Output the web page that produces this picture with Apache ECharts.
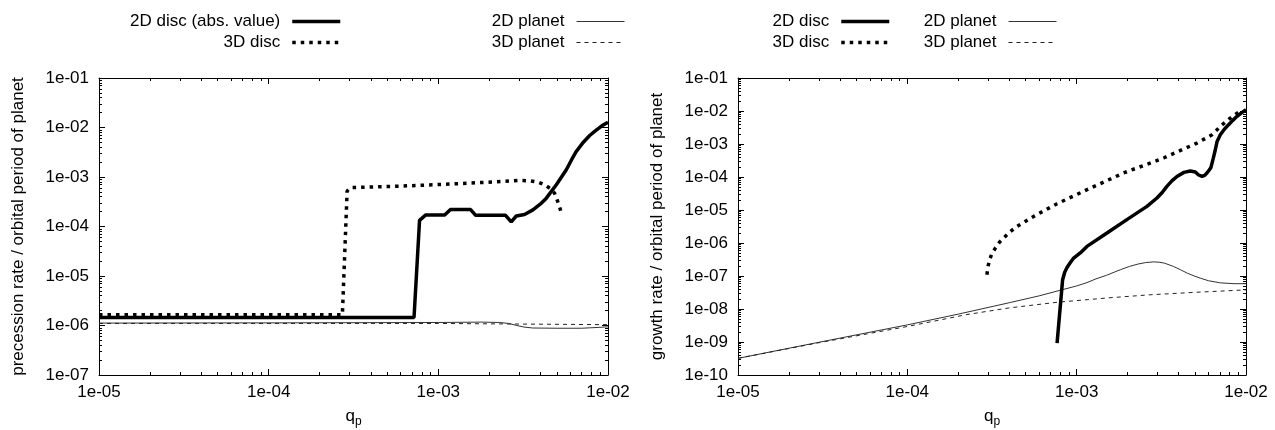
<!DOCTYPE html>
<html><head><meta charset="utf-8">
<script src="https://cdn.jsdelivr.net/npm/echarts@6/dist/echarts.min.js"></script>
<style>html,body{margin:0;padding:0;background:#fff}#c{width:1275px;height:430px}</style>
</head><body><div id="c"></div>
<script>
// ---------- data ----------
const xTickLabels = ['1e-05', '1e-04', '1e-03', '1e-02'];
const precTickLabels = ['1e-07', '1e-06', '1e-05', '1e-04', '1e-03', '1e-02', '1e-01'];
const growTickLabels = ['1e-10', '1e-09', '1e-08', '1e-07', '1e-06', '1e-05', '1e-04', '1e-03', '1e-02', '1e-01'];
const minorMantissas = [2, 3, 4, 5, 6, 7, 8, 9];

// left panel: precession rate
const prec2DDisc = [[1e-5,1.45e-6],[7.19e-4,1.45e-6],[7.75e-4,1.33e-4],[8.4e-4,1.7e-4],[1.09e-3,1.7e-4],[1.18e-3,2.2e-4],[1.55e-3,2.2e-4],[1.66e-3,1.68e-4],[2.49e-3,1.68e-4],[2.69e-3,1.24e-4],[2.88e-3,1.63e-4],[3.22e-3,1.75e-4],[3.61e-3,2.17e-4],[4.0e-3,2.85e-4],[4.33e-3,3.74e-4],[4.96e-3,6.95e-4],[5.68e-3,1.40e-3],[6.07e-3,2.16e-3],[6.5e-3,3.28e-3],[7.16e-3,5.05e-3],[7.8e-3,6.9e-3],[8.45e-3,8.67e-3],[9.2e-3,1.08e-2],[1e-2,1.28e-2]];
const prec3DDisc = [[1e-5,1.65e-6],[2.72e-4,1.65e-6],[2.9e-4,5.2e-4],[3.05e-4,6.1e-4],[5e-4,6.4e-4],[9.3e-4,6.95e-4],[1.5e-3,7.5e-4],[2.2e-3,8.0e-4],[3.0e-3,8.5e-4],[3.45e-3,8.4e-4],[3.9e-3,7.8e-4],[4.23e-3,6.95e-4],[4.55e-3,5.9e-4],[4.84e-3,4.72e-4],[5.14e-3,2.74e-4],[5.35e-3,1.72e-4]];
const prec2DPlanet = [[1e-5,1.12e-6],[1e-4,1.13e-6],[1e-3,1.15e-6],[1.8e-3,1.17e-6],[2.3e-3,1.15e-6],[2.6e-3,1.1e-6],[2.9e-3,1.0e-6],[3.2e-3,9.3e-7],[3.6e-3,8.9e-7],[5e-3,8.8e-7],[7e-3,8.8e-7],[8.5e-3,9.1e-7],[1e-2,9.4e-7]];
const prec3DPlanet = [[1e-5,1.10e-6],[1e-3,1.10e-6],[3e-3,1.07e-6],[1e-2,1.04e-6]];

// right panel: growth rate
const grow2DDisc = [[7.66e-4,9.3e-10],[8.26e-4,7.7e-8],[8.5e-4,1.3e-7],[8.77e-4,1.8e-7],[9.2e-4,2.6e-7],[9.6e-4,3.5e-7],[1.05e-3,5.0e-7],[1.15e-3,7.9e-7],[1.51e-3,2.0e-6],[1.98e-3,5.1e-6],[2.6e-3,1.29e-5],[2.98e-3,2.31e-5],[3.2e-3,3.4e-5],[3.41e-3,5.2e-5],[3.65e-3,7.6e-5],[3.91e-3,1.04e-4],[4.3e-3,1.38e-4],[4.69e-3,1.52e-4],[5.02e-3,1.42e-4],[5.25e-3,1.15e-4],[5.5e-3,1.04e-4],[5.7e-3,1.12e-4],[5.88e-3,1.32e-4],[6.05e-3,1.6e-4],[6.21e-3,1.95e-4],[6.4e-3,3.6e-4],[6.59e-3,6.7e-4],[6.75e-3,1.2e-3],[7.05e-3,1.91e-3],[7.45e-3,2.8e-3],[7.89e-3,3.85e-3],[8.35e-3,5.2e-3],[8.85e-3,6.9e-3],[9.4e-3,8.8e-3],[1e-2,1.09e-2]];
const grow3DDisc = [[2.95e-4,1.09e-7],[3.0e-4,2.0e-7],[3.06e-4,3.1e-7],[3.15e-4,4.6e-7],[3.31e-4,7.0e-7],[3.5e-4,1.05e-6],[3.71e-4,1.42e-6],[4.05e-4,2.2e-6],[4.45e-4,3.2e-6],[5.0e-4,4.6e-6],[5.57e-4,6.4e-6],[7.66e-4,1.55e-5],[1.21e-3,4.64e-5],[1.89e-3,1.32e-4],[3.26e-3,3.77e-4],[5.14e-3,1.07e-3],[5.8e-3,1.5e-3],[6.3e-3,1.91e-3],[6.7e-3,2.6e-3],[7.05e-3,3.41e-3],[8.07e-3,6.1e-3],[9.46e-3,1.09e-2]];
const grow2DPlanet = [[1e-5,3.2e-10],[3e-5,9.8e-10],[1e-4,3.3e-9],[2e-4,7.0e-9],[4e-4,1.55e-8],[6e-4,2.5e-8],[8e-4,3.7e-8],[1e-3,5.0e-8],[1.15e-3,6.3e-8],[1.3e-3,8.2e-8],[1.5e-3,1.05e-7],[1.81e-3,1.55e-7],[2.05e-3,1.95e-7],[2.3e-3,2.3e-7],[2.55e-3,2.55e-7],[2.85e-3,2.68e-7],[3.1e-3,2.6e-7],[3.3e-3,2.45e-7],[3.73e-3,1.95e-7],[4.1e-3,1.55e-7],[4.5e-3,1.22e-7],[5e-3,9.8e-8],[5.37e-3,8.6e-8],[6e-3,7.2e-8],[7.05e-3,6.2e-8],[8.5e-3,5.85e-8],[1e-2,5.85e-8]];
const grow3DPlanet = [[1e-5,3.2e-10],[3e-5,9.5e-10],[1e-4,2.95e-9],[2.25e-4,6.8e-9],[4e-4,1.08e-8],[7.66e-4,1.6e-8],[1.5e-3,2.15e-8],[2.72e-3,2.7e-8],[5e-3,3.2e-8],[1e-2,3.8e-8]];

// ---------- chart ----------
const FONT = 'Liberation Sans';
const FS = 17;
function fmt(labels, minExp) { return v => labels[Math.round(Math.log10(v)) - minExp] || ''; }
function minorValues(minExp, maxExp) {
  const out = [];
  for (let k = minExp; k < maxExp; k++) minorMantissas.forEach(m => out.push(m * Math.pow(10, k)));
  return out;
}
const tickLine = { color: '#000', width: 1 };

function axis(kind, grid, pos, min, max, labels, minExp, showLabel, name, nameGap) {
  const a = {
    type: 'log', logBase: 10, gridIndex: grid, position: pos, min: min, max: max,
    splitLine: { show: false },
    axisLine: { show: true, onZero: false, lineStyle: tickLine },
    axisTick: { show: true, inside: true, length: 6, lineStyle: tickLine },
    axisLabel: { show: showLabel, formatter: fmt(labels, minExp), fontSize: FS, fontFamily: FONT, color: '#000',
                 margin: kind === 'x' ? 9 : 10, showMinLabel: true, showMaxLabel: true },
    axisPointer: { show: false }
  };
  if (name) {
    a.name = name; a.nameLocation = 'middle'; a.nameGap = nameGap;
    a.nameTextStyle = { fontSize: FS, fontFamily: FONT, color: '#000',
      rich: { a: { fontSize: FS, fontFamily: FONT, color: '#000', lineHeight: 20, verticalAlign: 'top' },
              b: { fontSize: 12, fontFamily: FONT, color: '#000', lineHeight: 12, verticalAlign: 'bottom' } } };
  }
  return a;
}
// minor-tick overlay axis (ticks only, at 2..9 x 10^k)
function minorAxis(grid, pos, minExp, maxExp) {
  return {
    type: 'log', logBase: 10, gridIndex: grid, position: pos, min: Math.pow(10, minExp), max: Math.pow(10, maxExp),
    splitLine: { show: false }, axisLine: { show: false }, axisLabel: { show: false }, axisPointer: { show: false },
    axisTick: { show: true, inside: true, length: 3, lineStyle: tickLine, customValues: minorValues(minExp, maxExp) }
  };
}

const qName = '{a|q}{b|p}';
const xAxis = [
  axis('x', 0, 'bottom', 1e-5, 1e-2, xTickLabels, -5, true, qName, 33),
  axis('x', 0, 'top', 1e-5, 1e-2, xTickLabels, -5, false),
  axis('x', 1, 'bottom', 1e-5, 1e-2, xTickLabels, -5, true, qName, 33),
  axis('x', 1, 'top', 1e-5, 1e-2, xTickLabels, -5, false),
  minorAxis(0, 'bottom', -5, -2), minorAxis(0, 'top', -5, -2),
  minorAxis(1, 'bottom', -5, -2), minorAxis(1, 'top', -5, -2)
];
const yAxis = [
  axis('y', 0, 'left', 1e-7, 1e-1, precTickLabels, -7, true, 'precession rate / orbital period of planet', 72),
  axis('y', 0, 'right', 1e-7, 1e-1, precTickLabels, -7, false),
  axis('y', 1, 'left', 1e-10, 1e-1, growTickLabels, -10, true, 'growth rate / orbital period of planet', 72),
  axis('y', 1, 'right', 1e-10, 1e-1, growTickLabels, -10, false),
  minorAxis(0, 'left', -7, -1), minorAxis(0, 'right', -7, -1),
  minorAxis(1, 'left', -10, -1), minorAxis(1, 'right', -10, -1)
];

const thick = 3.5;
const dotDash = [3.5, 5];
const planetDash = [4, 4];
function line(name, data, xi, yi, style) {
  return { type: 'line', name: name, data: data, xAxisIndex: xi, yAxisIndex: yi, symbol: 'none',
           lineStyle: style, silent: true, animation: false, z: style.width > 2 ? 3 : 2 };
}
const S2Ddisc = { color: '#000', width: thick, type: 'solid', cap: 'butt' };
const S3Ddisc = { color: '#000', width: thick, type: dotDash, cap: 'butt' };
const S2Dpl = { color: '#333', width: 1, type: 'solid' };
const S3Dpl = { color: '#222', width: 1, type: planetDash };

const series = [
  line('2D disc (abs. value)', prec2DDisc, 0, 0, S2Ddisc),
  line('3D disc', prec3DDisc, 0, 0, S3Ddisc),
  line('2D planet', prec2DPlanet, 0, 0, S2Dpl),
  line('3D planet', prec3DPlanet, 0, 0, S3Dpl),
  line('2D disc', grow2DDisc, 2, 2, S2Ddisc),
  line('3D disc', grow3DDisc, 2, 2, S3Ddisc),
  line('2D planet', grow2DPlanet, 2, 2, S2Dpl),
  line('3D planet', grow3DPlanet, 2, 2, S3Dpl)
];

function legend(items, right) {
  return {
    orient: 'vertical', align: 'right', right: right, top: 13, padding: 0,
    itemWidth: 48, itemHeight: 14, itemGap: 4, selectedMode: false,
    itemStyle: { opacity: 0 },
    textStyle: { fontSize: FS, fontFamily: FONT, color: '#000', lineHeight: 17, padding: [0, 7, 0, 0] },
    data: items
  };
}
const legends = [
  legend([{ name: '2D disc (abs. value)', lineStyle: S2Ddisc }, { name: '3D disc', lineStyle: S3Ddisc }], 933),
  legend([{ name: '2D planet', lineStyle: S2Dpl }, { name: '3D planet', lineStyle: S3Dpl }], 650),
  legend([{ name: '2D disc', lineStyle: S2Ddisc }, { name: '3D disc', lineStyle: S3Ddisc }], 384),
  legend([{ name: '2D planet', lineStyle: S2Dpl }, { name: '3D planet', lineStyle: S3Dpl }], 218)
];

const chart = echarts.init(document.getElementById('c'), null, { renderer: 'canvas' });
chart.setOption({
  backgroundColor: '#fff',
  animation: false,
  textStyle: { fontFamily: FONT },
  grid: [
    { left: 99, top: 78, width: 509, height: 297, containLabel: false, outerBoundsMode: 'none' },
    { left: 738, top: 78, width: 508, height: 297, containLabel: false, outerBoundsMode: 'none' }
  ],
  legend: legends,
  xAxis: xAxis,
  yAxis: yAxis,
  series: series
});
</script></body></html>
